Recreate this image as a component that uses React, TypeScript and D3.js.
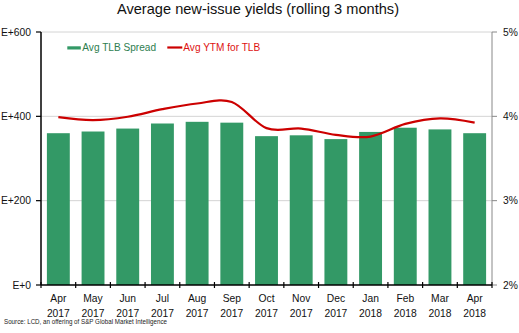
import React from "react";
import * as d3 from "d3";

const months = ["Apr", "May", "Jun", "Jul", "Aug", "Sep", "Oct", "Nov", "Dec", "Jan", "Feb", "Mar", "Apr"];
const years = ["2017", "2017", "2017", "2017", "2017", "2017", "2017", "2017", "2017", "2018", "2018", "2018", "2018"];
const spread = [360, 364, 371, 383, 387, 385, 353, 355, 346, 363, 373, 369, 360];
const ytm = [3.99, 3.955, 3.995, 4.085, 4.152, 4.17, 3.86, 3.855, 3.78, 3.76, 3.91, 3.975, 3.925];
const leftTicks = [0, 200, 400, 600];
const leftTickLabels = ["E+0", "E+200", "E+400", "E+600"];
const rightTicks = [2, 3, 4, 5];
const rightTickLabels = ["2%", "3%", "4%", "5%"];

const W = 519, H = 333;
const M = { left: 41, right: 27, top: 32, bottom: 48 };
const FONT = "'Liberation Sans', Arial, sans-serif";
const GREEN = "#339966";
const RED = "#cc0000";

export default function App() {
  const x = d3.scaleBand<number>().domain(d3.range(months.length)).range([M.left, W - M.right]).paddingInner(0.34).paddingOuter(0.17);
  const xb = d3.scaleLinear().domain([0, months.length]).range([M.left, W - M.right]);
  const yl = d3.scaleLinear().domain([0, 600]).range([H - M.bottom, M.top]);
  const yr = d3.scaleLinear().domain([2, 5]).range([H - M.bottom, M.top]);
  const line = d3.line<number>()
    .x((_, i) => (x(i) as number) + x.bandwidth() / 2)
    .y((d) => yr(d))
    .curve(d3.curveCardinal.tension(0));
  const bottom = H - M.bottom;
  const right = W - M.right;

  return (
    <svg width={W} height={H} style={{ display: "block", position: "absolute", left: 0, top: 0 }} fontFamily={FONT}>
      <rect width={W} height={H} fill="#fff" />
      <text x={258} y={14} textAnchor="middle" fontSize={14.6} fill="#111">Average new-issue yields (rolling 3 months)</text>
      {leftTicks.slice(1).map((t) => (
        <line key={t} x1={M.left} x2={right} y1={yl(t)} y2={yl(t)} stroke="#d4d4d4" strokeWidth={1} />
      ))}
      {spread.map((v, i) => (
        <rect key={i} x={x(i)} y={yl(v)} width={x.bandwidth()} height={bottom - yl(v)} fill={GREEN} />
      ))}
      <path d={line(ytm) || ""} fill="none" stroke={RED} strokeWidth={2.2} />
      {/* left axis */}
      <line x1={M.left} x2={M.left} y1={M.top} y2={bottom} stroke="#000" strokeWidth={1.5} />
      {leftTicks.map((t, i) => (
        <g key={t}>
          <line x1={M.left - 5} x2={M.left} y1={yl(t)} y2={yl(t)} stroke="#000" strokeWidth={1.2} />
          <text x={31} y={yl(t) + 3.6} textAnchor="end" fontSize={10.3} fill="#111">{leftTickLabels[i]}</text>
        </g>
      ))}
      {/* right axis */}
      <line x1={right} x2={right} y1={M.top} y2={bottom} stroke="#888" strokeWidth={1} />
      {rightTicks.map((t, i) => (
        <g key={t}>
          <line x1={right} x2={right + 5} y1={yr(t)} y2={yr(t)} stroke="#888" strokeWidth={1} />
          <text x={503} y={yr(t) + 3.6} textAnchor="start" fontSize={10.3} fill="#111">{rightTickLabels[i]}</text>
        </g>
      ))}
      {/* bottom axis */}
      <line x1={M.left} x2={right} y1={bottom} y2={bottom} stroke="#000" strokeWidth={1.5} />
      {d3.range(months.length + 1).map((i) => (
        <line key={i} x1={xb(i)} x2={xb(i)} y1={bottom - 3} y2={bottom + 3} stroke="#000" strokeWidth={1.2} />
      ))}
      {months.map((m, i) => (
        <g key={i}>
          <text x={(x(i) as number) + x.bandwidth() / 2} y={302} textAnchor="middle" fontSize={10.3} fill="#111">{m}</text>
          <text x={(x(i) as number) + x.bandwidth() / 2} y={317} textAnchor="middle" fontSize={10.3} fill="#111">{years[i]}</text>
        </g>
      ))}
      {/* legend */}
      <rect x={67.3} y={46.3} width={13.5} height={3.2} fill={GREEN} />
      <text x={82.3} y={50.7} fontSize={10.1} fill="#2e7d4f">Avg TLB Spread</text>
      <line x1={167.3} x2={182.3} y1={47.5} y2={47.5} stroke={RED} strokeWidth={2.2} />
      <text x={183.3} y={50.7} fontSize={10.1} fill="#dd1111">Avg YTM for TLB</text>
      <text x={4} y={324} fontSize={7} fill="#222" textLength={163} lengthAdjust="spacingAndGlyphs">Source: LCD, an offering of S&amp;P Global Market Intelligence</text>
    </svg>
  );
}
